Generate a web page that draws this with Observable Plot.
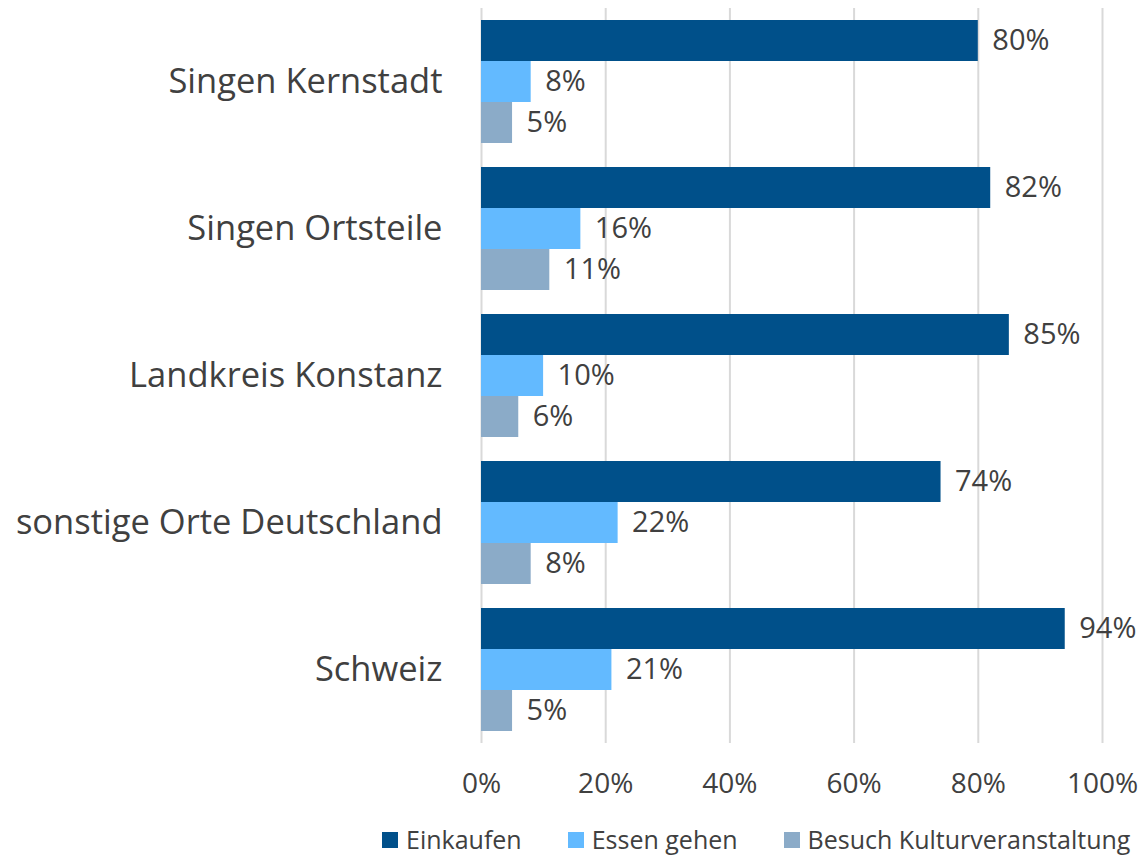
<!DOCTYPE html>
<html>
<head>
<meta charset="utf-8">
<script src="https://cdn.jsdelivr.net/npm/d3@7"></script>
<script src="https://cdn.jsdelivr.net/npm/@observablehq/plot@0.6"></script>
<style>
  body { margin: 0; background: #fff; font-family: "Open Sans", sans-serif; overflow: hidden; }
  #legend { height: 35px; box-sizing: border-box; padding-top: 4px; display: flex; align-items: center; padding-left: 382px; color: #404040; font-size: 25px; line-height: 25px; white-space: nowrap; }
  #legend .item { display: flex; align-items: center; margin-right: 46px; }
  #legend .sw { width: 16px; height: 16px; margin-right: 8px; }
</style>
</head>
<body>
<div id="chart"></div>
<div id="legend"></div>
<script>
const categories = ["Singen Kernstadt", "Singen Ortsteile", "Landkreis Konstanz", "sonstige Orte Deutschland", "Schweiz"];
const series = ["Einkaufen", "Essen gehen", "Besuch Kulturveranstaltung"];
const colors = ["#00508a", "#63baff", "#8babc8"];
const einkaufen = [80, 82, 85, 74, 94];
const essen = [8, 16, 10, 22, 21];
const kultur = [5, 11, 6, 8, 5];
const xTicks = [0, 20, 40, 60, 80, 100];

const values = [einkaufen, essen, kultur];
const data = categories.flatMap((c, i) => series.map((s, j) => ({cat: c, series: s, value: values[j][i]})));

const chart = Plot.plot({
  width: 1142,
  height: 820,
  marginLeft: 481,
  marginRight: 40,
  marginTop: 17,
  marginBottom: 86,
  style: {fontFamily: "'Open Sans', sans-serif", color: "#404040", background: "#fff", overflow: "visible", display: "block"},
  x: {domain: [0, 100]},
  fy: {domain: categories, paddingInner: 22 / 148, paddingOuter: 0},
  y: {domain: series, padding: 0},
  color: {domain: series, range: colors},
  marks: [
    Plot.ruleX(xTicks, {stroke: "#d9d9d9", strokeWidth: 2, insetTop: -11, insetBottom: -11}),
    Plot.barX(data, {fy: "cat", y: "series", x: "value", fill: "series"}),
    Plot.text(data, {fy: "cat", y: "series", x: "value", text: d => d.value + "%", textAnchor: "start", dx: 14, fontSize: 29, fill: "#404040"}),
    Plot.axisX({anchor: "bottom", ticks: xTicks, tickFormat: d => d + "%", tickSize: 0, tickPadding: 41, fontSize: 28, label: null}),
    Plot.axisFy({anchor: "left", tickSize: 0, tickPadding: 39, fontSize: 34.5, label: null}),
    Plot.axisY({ticks: [], tickSize: 0, label: null})
  ]
});
document.getElementById("chart").appendChild(chart);

const legend = document.getElementById("legend");
series.forEach((s, i) => {
  const item = document.createElement("div");
  item.className = "item";
  const sw = document.createElement("div");
  sw.className = "sw";
  sw.style.background = colors[i];
  const t = document.createElement("span");
  t.textContent = s;
  item.appendChild(sw);
  item.appendChild(t);
  legend.appendChild(item);
});
</script>
</body>
</html>
